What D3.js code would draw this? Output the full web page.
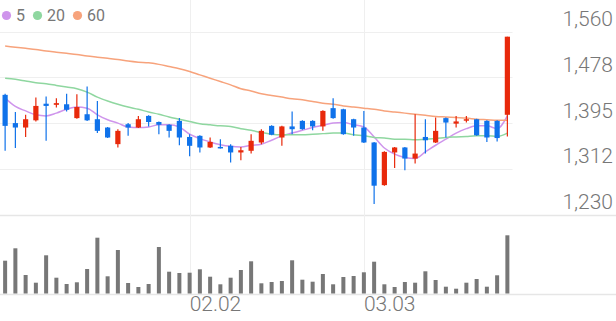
<!DOCTYPE html>
<html>
<head>
<meta charset="utf-8">
<script src="https://cdn.jsdelivr.net/npm/d3@7/dist/d3.min.js"></script>
<style>
  html, body { margin: 0; padding: 0; background: #fff; }
  svg { display: block; font-family: Roboto, "Noto Sans", sans-serif; }
</style>
</head>
<body>
<svg id="chart" width="616" height="321"></svg>
<script>
// ---- data ----
const dates = ["01.07","01.08","01.09","01.12","01.13","01.14","01.15","01.16","01.19","01.20",
  "01.21","01.22","01.23","01.26","01.27","01.28","01.29","01.30","02.02","02.03",
  "02.04","02.05","02.06","02.09","02.10","02.11","02.12","02.13","02.19","02.20",
  "02.23","02.24","02.25","02.26","02.27","03.03","03.04","03.05","03.06","03.09",
  "03.10","03.11","03.12","03.13","03.16","03.17","03.18","03.19","03.20","03.23"];
const open  = [1446,1395,1387,1400,1430,1428,1429,1404,1411,1402,1387,1357,1393,1387,1408,1397,1392,1399,1370,1372,
  1351,1352,1354,1342,1345,1360,1390,1369,1389,1399,1399,1389,1422,1420,1402,1387,1360,1283,1342,1351,
  1331,1370,1360,1404,1394,1400,1402,1399,1399,1410];
const high  = [1448,1415,1410,1441,1443,1440,1448,1447,1461,1435,1388,1384,1395,1408,1409,1398,1393,1404,1375,1373,
  1369,1366,1357,1352,1375,1384,1391,1390,1416,1400,1400,1418,1440,1421,1403,1417,1361,1344,1352,1352,
  1411,1402,1405,1405,1408,1408,1403,1400,1400,1551];
const low   = [1345,1350,1370,1398,1363,1423,1416,1403,1399,1377,1368,1351,1372,1386,1389,1375,1369,1355,1335,1342,
  1350,1349,1324,1328,1340,1357,1373,1354,1375,1383,1382,1381,1403,1374,1372,1359,1249,1282,1314,1310,
  1322,1340,1359,1369,1387,1396,1372,1361,1362,1371];
const close = [1390,1387,1402,1426,1426,1431,1419,1424,1400,1381,1369,1381,1387,1402,1397,1392,1381,1369,1354,1351,
  1361,1350,1342,1346,1363,1381,1374,1389,1384,1384,1389,1417,1404,1375,1387,1360,1282,1343,1351,1331,
  1340,1364,1381,1396,1398,1402,1373,1369,1368,1551];
const volume = [328000,452000,185000,108000,382000,158000,95000,112000,245000,558000,172000,435000,105000,65000,95000,465000,218000,205000,208000,242000,
  168000,92000,158000,235000,322000,102000,115000,125000,332000,138000,118000,195000,92000,165000,175000,212000,318000,92000,65000,115000,
  108000,222000,135000,68000,48000,108000,145000,68000,182000,582000];
const ma5  = [1440,1425,1417,1410,1408,1413,1420,1424,1422,1410,1401,1395,1388,1387,1388,1392,1392,1388,1375,1367,
  1361,1356,1353,1352,1355,1357,1364,1372,1377,1382,1387,1391,1395,1396,1392,1388,1370,1350,1339,1333,
  1331,1343,1355,1366,1377,1385,1390,1390,1385,1408];
const ma20 = [1476,1474,1471,1468,1466,1463,1460,1457,1451,1442,1435,1429,1424,1420,1415,1411,1406,1402,1398,1394,
  1392,1390,1389,1385,1382,1378,1375,1374,1374,1374,1375,1376,1377,1377,1374,1372,1369,1368,1366,1366,
  1365,1366,1367,1369,1370,1371,1372,1372,1371,1377];
const ma60 = [1534,1532,1530,1528,1525,1523,1521,1519,1516,1514,1512,1510,1507,1505,1504,1501,1497,1493,1488,1482,
  1476,1470,1464,1457,1453,1448,1445,1442,1439,1437,1434,1431,1429,1426,1424,1422,1420,1417,1415,1413,
  1411,1409,1407,1406,1405,1404,1402,1401,1400,1400];
const priceTicks = [1230, 1312.5, 1395, 1477.5, 1560];
const priceTickLabels = ["1,230","1,312","1,395","1,478","1,560"];
const dateTicks = ["02.02","03.03"];
const maNames = ["5","20","60"];

// ---- style ----
const W = 616, H = 321;
const plotRight = 512.5;
const UP = "#e8290b", DOWN = "#0f72ea";
const maColors = ["#cf95ec", "#8fd7a0", "#f7a37c"];
const gridColor = "#efefef", axisLineColor = "#e6e6e6", textColor = "#777";

const svg = d3.select("#chart");

const x = d3.scaleBand().domain(dates).range([0, plotRight]).padding(0);
const cx = d => x(d) + x.bandwidth() / 2;
const y = d3.scaleLinear().domain([1230, 1560]).range([214.5, 31.7]);
const yv = d3.scaleLinear().domain([0, d3.max(volume)]).range([293.5, 235.3]);

// horizontal grid
const g = svg.append("g");
g.selectAll("line.hg").data(priceTicks.slice(1)).join("line")
  .attr("x1", 0).attr("x2", plotRight)
  .attr("y1", d => Math.round(y(d)) + 0.5).attr("y2", d => Math.round(y(d)) + 0.5)
  .attr("stroke", gridColor).attr("stroke-width", 1);
// bottom lines of price pane and volume pane
[y(1230), yv(0)].forEach(v => {
  g.append("line").attr("x1", 0).attr("x2", W)
    .attr("y1", Math.round(v) + 0.5).attr("y2", Math.round(v) + 0.5)
    .attr("stroke", axisLineColor).attr("stroke-width", 1.5);
});
// vertical grid at date ticks
g.selectAll("line.vg").data(dateTicks).join("line")
  .attr("x1", d => Math.round(cx(d)) + 0.5).attr("x2", d => Math.round(cx(d)) + 0.5)
  .attr("y1", 0).attr("y2", yv(0))
  .attr("stroke", gridColor).attr("stroke-width", 1);

// y labels (right)
svg.append("g").selectAll("text").data(priceTicks).join("text")
  .attr("x", 613).attr("y", d => y(d) - 5.5)
  .attr("text-anchor", "end")
  .attr("font-size", 21).attr("font-weight", 300)
  .attr("fill", textColor)
  .text((d, i) => priceTickLabels[i]);

// x labels
svg.append("g").selectAll("text").data(dateTicks).join("text")
  .attr("x", d => cx(d)).attr("y", 311)
  .attr("text-anchor", "start")
  .attr("font-size", 21).attr("font-weight", 300)
  .attr("fill", textColor)
  .text(d => d);

// volume bars
svg.append("g").selectAll("rect").data(dates).join("rect")
  .attr("x", d => cx(d) - 2).attr("width", 4)
  .attr("y", (d, i) => yv(volume[i]))
  .attr("height", (d, i) => yv(0) - yv(volume[i]))
  .attr("fill", "#777");

// MA lines
const series = [ma5, ma20, ma60];
series.forEach((s, k) => {
  const line = d3.line().x((d, i) => cx(dates[i])).y(d => y(d)).curve(d3.curveMonotoneX);
  svg.append("path").datum(s).attr("d", line)
    .attr("fill", "none").attr("stroke", maColors[k]).attr("stroke-width", 1.5);
});

// candles
const cg = svg.append("g");
dates.forEach((d, i) => {
  const up = close[i] >= open[i];
  const col = up ? UP : DOWN;
  const xc = cx(d);
  cg.append("line").attr("x1", xc).attr("x2", xc)
    .attr("y1", y(high[i])).attr("y2", y(low[i]))
    .attr("stroke", col).attr("stroke-width", 1.2);
  const top = y(Math.max(open[i], close[i]));
  const bot = y(Math.min(open[i], close[i]));
  cg.append("rect").attr("x", xc - 2.6).attr("width", 5.2)
    .attr("y", top).attr("height", Math.max(1.5, bot - top))
    .attr("fill", col);
});

// legend
let lx = 6.5;
const lg = svg.append("g");
maNames.forEach((n, k) => {
  lg.append("circle").attr("cx", lx).attr("cy", 15.5).attr("r", 4.6).attr("fill", maColors[k]);
  const t = lg.append("text").attr("x", lx + 9.5).attr("y", 21)
    .attr("font-size", 16).attr("fill", textColor).text(n);
  const w = t.node().getComputedTextLength();
  lx = lx + 9.5 + w + 12.5;
});
</script>
</body>
</html>
